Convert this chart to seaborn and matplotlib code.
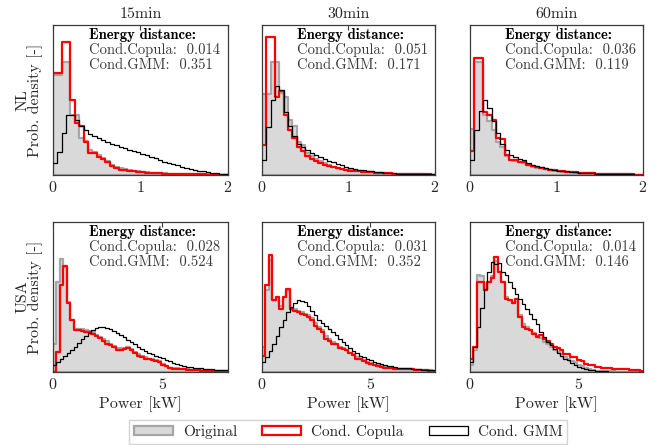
import numpy as np
import matplotlib
matplotlib.use("Agg")
import matplotlib.pyplot as plt
from matplotlib.patches import Patch
import seaborn as sns

# ---------------------------------------------------------------
# Histogram bin grids (kW)
# ---------------------------------------------------------------
edges_nl = np.linspace(0, 2, 41)     # 0.05 kW bins
edges_usa = np.linspace(0, 8, 51)    # 0.16 kW bins

resolutions = ["15min", "30min", "60min"]
regions = ["NL", "USA"]

# ---------------------------------------------------------------
# Bin heights (relative probability density)
# ---------------------------------------------------------------
nl15_orig = [0.667, 0.667, 0.756, 0.756, 0.40, 0.40, 0.245, 0.23, 0.17, 0.155,
             0.135, 0.115, 0.095, 0.068, 0.056, 0.047, 0.04, 0.035, 0.03, 0.026,
             0.022, 0.019, 0.016, 0.014, 0.012, 0.011, 0.010, 0.009, 0.008, 0.007,
             0.006, 0.006, 0.005, 0.005, 0.004, 0.004, 0.003, 0.003, 0.002, 0.002]
nl15_cop = [0.68, 0.68, 0.89, 0.89, 0.50, 0.345, 0.33, 0.22, 0.15, 0.145,
            0.12, 0.11, 0.09, 0.058, 0.045, 0.036, 0.031, 0.027, 0.024, 0.021,
            0.018, 0.016, 0.014, 0.012, 0.011, 0.010, 0.009, 0.008, 0.007, 0.006,
            0.006, 0.005, 0.005, 0.004, 0.004, 0.003, 0.003, 0.003, 0.002, 0.002]
nl15_gmm = [0.078, 0.155, 0.278, 0.40, 0.40, 0.37, 0.33, 0.30, 0.275, 0.26,
            0.245, 0.232, 0.22, 0.21, 0.20, 0.19, 0.18, 0.17, 0.16, 0.152,
            0.142, 0.132, 0.122, 0.112, 0.10, 0.09, 0.082, 0.072, 0.064, 0.056,
            0.048, 0.042, 0.036, 0.030, 0.025, 0.020, 0.016, 0.012, 0.009, 0.007]

nl30_orig = [0.538, 0.538, 0.756, 0.756, 0.55, 0.52, 0.37, 0.33, 0.22, 0.20,
             0.15, 0.13, 0.11, 0.092, 0.078, 0.066, 0.056, 0.048, 0.042, 0.036,
             0.032, 0.028, 0.025, 0.022, 0.019, 0.017, 0.015, 0.013, 0.012, 0.010,
             0.009, 0.008, 0.007, 0.006, 0.006, 0.005, 0.004, 0.004, 0.003, 0.003]
nl30_cop = [0.20, 0.92, 0.92, 0.52, 0.56, 0.40, 0.30, 0.25, 0.19, 0.16,
            0.13, 0.11, 0.095, 0.08, 0.07, 0.06, 0.052, 0.045, 0.04, 0.035,
            0.03, 0.027, 0.024, 0.021, 0.019, 0.017, 0.015, 0.013, 0.012, 0.011,
            0.010, 0.009, 0.008, 0.007, 0.006, 0.006, 0.005, 0.004, 0.004, 0.003]
nl30_gmm = [0.10, 0.32, 0.50, 0.593, 0.57, 0.42, 0.33, 0.26, 0.21, 0.19,
            0.17, 0.15, 0.135, 0.12, 0.105, 0.095, 0.085, 0.075, 0.065, 0.056,
            0.048, 0.042, 0.036, 0.032, 0.028, 0.024, 0.021, 0.018, 0.016, 0.014,
            0.012, 0.010, 0.009, 0.008, 0.007, 0.006, 0.005, 0.005, 0.004, 0.004]

nl60_orig = [0.31, 0.756, 0.756, 0.40, 0.36, 0.30, 0.22, 0.19, 0.13, 0.10,
             0.095, 0.085, 0.078, 0.065, 0.056, 0.05, 0.045, 0.037, 0.033, 0.03,
             0.026, 0.023, 0.02, 0.018, 0.016, 0.014, 0.013, 0.012, 0.011, 0.009,
             0.008, 0.007, 0.006, 0.006, 0.005, 0.004, 0.004, 0.003, 0.003, 0.002]
nl60_cop = [0.162, 0.778, 0.778, 0.42, 0.40, 0.367, 0.244, 0.24, 0.133, 0.10,
            0.10, 0.09, 0.085, 0.07, 0.06, 0.055, 0.05, 0.04, 0.035, 0.033,
            0.028, 0.025, 0.022, 0.02, 0.018, 0.016, 0.014, 0.013, 0.012, 0.010,
            0.009, 0.008, 0.007, 0.006, 0.006, 0.005, 0.004, 0.004, 0.003, 0.003]
nl60_gmm = [0.10, 0.30, 0.43, 0.50, 0.45, 0.36, 0.28, 0.21, 0.17, 0.133,
            0.12, 0.11, 0.10, 0.08, 0.07, 0.06, 0.055, 0.048, 0.042, 0.036,
            0.03, 0.027, 0.024, 0.02, 0.018, 0.016, 0.014, 0.012, 0.011, 0.010,
            0.009, 0.008, 0.007, 0.006, 0.005, 0.005, 0.004, 0.004, 0.003, 0.003]

usa15_orig = [0.19, 0.60, 0.756, 0.70, 0.47, 0.35, 0.285, 0.285, 0.285, 0.282,
              0.275, 0.265, 0.25, 0.235, 0.22, 0.205, 0.19, 0.175, 0.16, 0.158,
              0.163, 0.165, 0.155, 0.135, 0.12, 0.108, 0.098, 0.09, 0.085, 0.08,
              0.075, 0.052, 0.042, 0.03, 0.027, 0.025, 0.023, 0.021, 0.017, 0.014,
              0.013, 0.012, 0.011, 0.010, 0.009, 0.008, 0.007, 0.006, 0.005, 0.004]
usa15_cop = [0.0, 0.133, 0.58, 0.71, 0.46, 0.345, 0.278, 0.278, 0.275, 0.27,
             0.265, 0.255, 0.24, 0.225, 0.21, 0.19, 0.18, 0.165, 0.15, 0.148,
             0.155, 0.158, 0.148, 0.125, 0.11, 0.10, 0.09, 0.085, 0.08, 0.075,
             0.07, 0.045, 0.04, 0.025, 0.023, 0.022, 0.02, 0.02, 0.015, 0.012,
             0.012, 0.011, 0.010, 0.010, 0.009, 0.008, 0.007, 0.006, 0.005, 0.004]
usa15_gmm = [0.05, 0.07, 0.09, 0.105, 0.125, 0.145, 0.17, 0.195, 0.22, 0.24,
             0.26, 0.28, 0.295, 0.303, 0.302, 0.295, 0.285, 0.275, 0.262, 0.248,
             0.232, 0.215, 0.20, 0.185, 0.17, 0.155, 0.14, 0.128, 0.118, 0.11,
             0.10, 0.092, 0.082, 0.072, 0.063, 0.055, 0.047, 0.04, 0.034, 0.031,
             0.03, 0.027, 0.024, 0.022, 0.02, 0.018, 0.016, 0.014, 0.012, 0.011]

usa30_orig = [0.17, 0.55, 0.75, 0.48, 0.50, 0.44, 0.50, 0.54, 0.43, 0.42,
              0.41, 0.40, 0.39, 0.38, 0.36, 0.33, 0.30, 0.28, 0.24, 0.22,
              0.20, 0.19, 0.17, 0.16, 0.15, 0.13, 0.12, 0.10, 0.09, 0.08,
              0.068, 0.06, 0.05, 0.044, 0.038, 0.032, 0.028, 0.025, 0.023, 0.022,
              0.021, 0.02, 0.019, 0.018, 0.016, 0.014, 0.013, 0.012, 0.011, 0.010]
usa30_cop = [0.11, 0.58, 0.78, 0.48, 0.50, 0.42, 0.50, 0.556, 0.42, 0.41,
             0.40, 0.39, 0.38, 0.37, 0.35, 0.31, 0.29, 0.27, 0.22, 0.21,
             0.19, 0.185, 0.16, 0.155, 0.15, 0.125, 0.115, 0.09, 0.085, 0.075,
             0.06, 0.055, 0.045, 0.04, 0.035, 0.03, 0.026, 0.024, 0.022, 0.021,
             0.02, 0.019, 0.018, 0.017, 0.015, 0.013, 0.012, 0.011, 0.010, 0.009]
usa30_gmm = [0.07, 0.10, 0.14, 0.19, 0.24, 0.30, 0.35, 0.40, 0.435, 0.46,
             0.478, 0.475, 0.465, 0.44, 0.41, 0.38, 0.35, 0.325, 0.305, 0.29,
             0.27, 0.245, 0.22, 0.20, 0.18, 0.16, 0.14, 0.125, 0.11, 0.10,
             0.088, 0.078, 0.07, 0.062, 0.052, 0.048, 0.042, 0.037, 0.033, 0.03,
             0.028, 0.026, 0.024, 0.022, 0.02, 0.018, 0.016, 0.014, 0.012, 0.011]

usa60_orig = [0.05, 0.15, 0.644, 0.64, 0.55, 0.60, 0.64, 0.74, 0.67, 0.60,
              0.50, 0.48, 0.46, 0.47, 0.38, 0.32, 0.30, 0.28, 0.26, 0.24,
              0.23, 0.20, 0.185, 0.165, 0.15, 0.135, 0.12, 0.10, 0.09, 0.075,
              0.065, 0.05, 0.04, 0.03, 0.02, 0.015, 0.010, 0.008, 0.006, 0.005,
              0.004, 0.004, 0.003, 0.003, 0.003, 0.002, 0.002, 0.002, 0.002, 0.001]
usa60_cop = [0.09, 0.17, 0.60, 0.60, 0.545, 0.60, 0.63, 0.767, 0.67, 0.60,
             0.49, 0.48, 0.46, 0.49, 0.37, 0.30, 0.29, 0.28, 0.256, 0.235,
             0.245, 0.22, 0.21, 0.19, 0.167, 0.16, 0.145, 0.122, 0.12, 0.10,
             0.10, 0.08, 0.075, 0.055, 0.05, 0.045, 0.035, 0.033, 0.03, 0.028,
             0.024, 0.023, 0.022, 0.021, 0.02, 0.019, 0.014, 0.012, 0.011, 0.010]
usa60_gmm = [0.067, 0.167, 0.30, 0.43, 0.556, 0.667, 0.733, 0.72, 0.73, 0.67,
             0.644, 0.60, 0.56, 0.52, 0.49, 0.456, 0.42, 0.39, 0.356, 0.32,
             0.267, 0.233, 0.20, 0.18, 0.156, 0.13, 0.11, 0.09, 0.078, 0.06,
             0.05, 0.035, 0.03, 0.02, 0.016, 0.012, 0.009, 0.007, 0.005, 0.004,
             0.003, 0.003, 0.002, 0.002, 0.002, 0.002, 0.001, 0.001, 0.001, 0.001]

# Energy distance between generated and original samples
ed_copula_nl = [0.014, 0.051, 0.036]
ed_gmm_nl = [0.351, 0.171, 0.119]
ed_copula_usa = [0.028, 0.031, 0.014]
ed_gmm_usa = [0.524, 0.352, 0.146]

original = {"NL": [nl15_orig, nl30_orig, nl60_orig],
            "USA": [usa15_orig, usa30_orig, usa60_orig]}
copula = {"NL": [nl15_cop, nl30_cop, nl60_cop],
          "USA": [usa15_cop, usa30_cop, usa60_cop]}
gmm = {"NL": [nl15_gmm, nl30_gmm, nl60_gmm],
       "USA": [usa15_gmm, usa30_gmm, usa60_gmm]}
ed_copula = {"NL": ed_copula_nl, "USA": ed_copula_usa}
ed_gmm = {"NL": ed_gmm_nl, "USA": ed_gmm_usa}
edges = {"NL": edges_nl, "USA": edges_usa}

# ---------------------------------------------------------------
# Styling
# ---------------------------------------------------------------
sns.set_style("white")
plt.rcParams["font.family"] = ["cmr10", "DejaVu Serif"]
plt.rcParams["axes.formatter.use_mathtext"] = True
plt.rcParams["mathtext.fontset"] = "cm"

GRAY_FACE = "#d9d9d9"
GRAY_EDGE = "#a6a6a6"
RED = "#ff0000"
SPINE = "#3a3a3a"
TEXT = "#3a3a3a"
FS = 11.5       # axis labels, titles, tick labels
FS_NOTE = 10.5  # energy-distance annotation

fig = plt.figure(figsize=(6.68, 4.45), dpi=100)

lefts = [0.0793, 0.3922, 0.7036]
widths = [0.262, 0.259, 0.259]
bottoms = {"NL": 0.6067, "USA": 0.164}
height = 0.337


def step_hist(ax, bin_edges, heights, **kws):
    centers = (bin_edges[:-1] + bin_edges[1:]) / 2
    sns.histplot(x=centers, weights=heights, bins=len(bin_edges) - 1,
                 binrange=(bin_edges[0], bin_edges[-1]), element="step",
                 stat="count", ax=ax, **kws)


for region in regions:
    for j, res in enumerate(resolutions):
        ax = fig.add_axes([lefts[j], bottoms[region], widths[j], height])
        be = edges[region]

        step_hist(ax, be, original[region][j], fill=True,
                  facecolor=GRAY_FACE, edgecolor=GRAY_EDGE, alpha=1,
                  linewidth=1.6, zorder=1)
        step_hist(ax, be, copula[region][j], fill=False, color=RED,
                  linewidth=1.6, zorder=2)
        step_hist(ax, be, gmm[region][j], fill=False, color="black",
                  linewidth=0.9, zorder=3)

        ax.set_xlim(be[0], be[-1])
        ax.set_ylim(0, 1.0)
        ax.set_yticks([])
        if region == "NL":
            ax.set_xticks([0, 1, 2])
            ax.set_title(res, fontsize=FS, pad=5)
            ax.set_xlabel("")
        else:
            ax.set_xticks([0, 5])
            ax.set_xlabel("Power [kW]", fontsize=FS, labelpad=3)
        ax.tick_params(axis="x", direction="in", top=True, bottom=True,
                       length=3.5, width=0.8, color=SPINE, labelsize=FS, pad=3.5)
        for s in ax.spines.values():
            s.set_visible(True)
            s.set_color(SPINE)
            s.set_linewidth(0.9)

        if j == 0:
            ax.set_ylabel(f"{region}\nProb. density [-]", fontsize=FS,
                          labelpad=7, linespacing=0.8)
        else:
            ax.set_ylabel("")

        ax.text(0.205, 0.91, "Energy distance:", transform=ax.transAxes,
                fontsize=FS_NOTE, family=["cmb10", "DejaVu Serif"],
                va="baseline", color="black")
        ax.text(0.205, 0.805, f"Cond.Copula:  {ed_copula[region][j]:.3f}",
                transform=ax.transAxes, fontsize=FS_NOTE, va="baseline",
                color=TEXT)
        ax.text(0.205, 0.708, f"Cond.GMM:  {ed_gmm[region][j]:.3f}",
                transform=ax.transAxes, fontsize=FS_NOTE, va="baseline",
                color=TEXT)

handles = [
    Patch(facecolor=GRAY_FACE, edgecolor=GRAY_EDGE, linewidth=1.6, label="Original"),
    Patch(facecolor="white", edgecolor=RED, linewidth=1.6, label="Cond. Copula"),
    Patch(facecolor="white", edgecolor="black", linewidth=0.9, label="Cond. GMM"),
]
fig.legend(handles=handles, loc="lower center", bbox_to_anchor=(0.521, 0.003),
           ncol=3, frameon=True, fancybox=False, edgecolor="#c8c8c8",
           fontsize=11, handlelength=2.55, handleheight=0.46,
           columnspacing=1.65, handletextpad=0.65, borderaxespad=0,
           borderpad=0.3)

fig.savefig("out.png", dpi=100)
